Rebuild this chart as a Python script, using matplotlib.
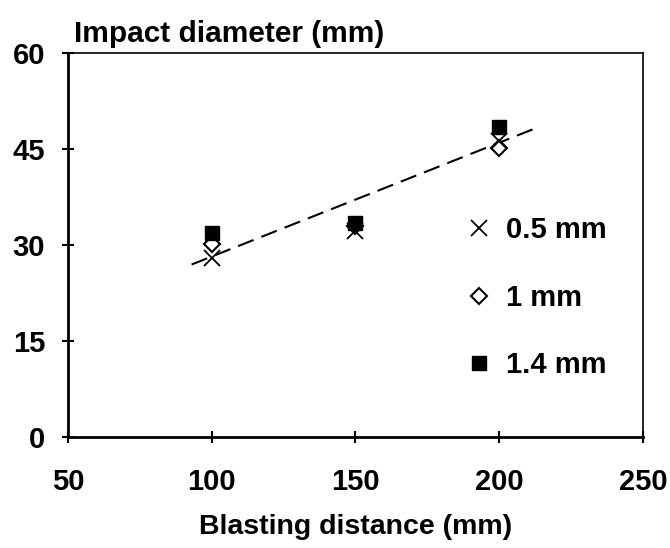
import numpy as np
import matplotlib
matplotlib.use("Agg")
import matplotlib.pyplot as plt

plt.rcParams['font.family'] = ['Liberation Sans', 'DejaVu Sans']
plt.rcParams['font.weight'] = 'bold'

# blasting distance (mm)
dist = [100, 150, 200]
# impact diameter (mm) for each grit size
d_05 = [28.0, 32.2, 46.2]
d_10 = [30.2, 33.0, 45.2]
d_14 = [31.9, 33.5, 48.5]
labels = ["0.5 mm", "1 mm", "1.4 mm"]
# trendline: slope, intercept and x span
trend_coef = [0.178, 10.4]
trend_span = [93, 212]

fig = plt.figure(figsize=(6.7, 5.48), dpi=100)
ax = fig.add_axes([0.1015, 0.2026, 0.858, 0.7005])

tx = np.array(trend_span)
ax.plot(tx, np.polyval(trend_coef, tx), color="black", lw=1.5,
        dashes=(8, 4), zorder=1)

ax.plot(dist, d_14, "s", color="black", ms=10, label=labels[2], zorder=3)
ax.plot(dist, d_10, "D", mfc="white", mec="black", mew=1.5, ms=8,
        label=labels[1], zorder=2)
ax.plot(dist, d_05, "x", color="black", mew=1.3, ms=12, label=labels[0],
        zorder=4)

ax.set_xlim(50, 250)
ax.set_ylim(0, 60)
ax.set_xticks([50, 100, 150, 200, 250])
ax.set_yticks([0, 15, 30, 45, 60])
ax.tick_params(direction="inout", length=9, width=1.5, labelsize=21)
ax.tick_params(axis="x", pad=18)
ax.tick_params(axis="y", pad=12)
for s in ax.spines.values():
    s.set_linewidth(2)
ax.spines["top"].set_linewidth(1.2)
ax.spines["right"].set_linewidth(1.2)

ax.set_xlabel("Blasting distance (mm)", fontsize=20.5, fontweight="bold",
              labelpad=13)
ax.text(0.01, 1.012, "Impact diameter (mm)", transform=ax.transAxes,
        fontsize=21.5, ha="left", va="bottom")

h, l = ax.get_legend_handles_labels()
order = [2, 1, 0]
ax.legend([h[i] for i in order], [l[i] for i in order], frameon=False,
          fontsize=21, loc="upper left", bbox_to_anchor=(0.665, 0.605),
          labelspacing=1.35, handletextpad=0.3, handlelength=1.2,
          borderaxespad=0)

fig.savefig("out.png", dpi=100)
